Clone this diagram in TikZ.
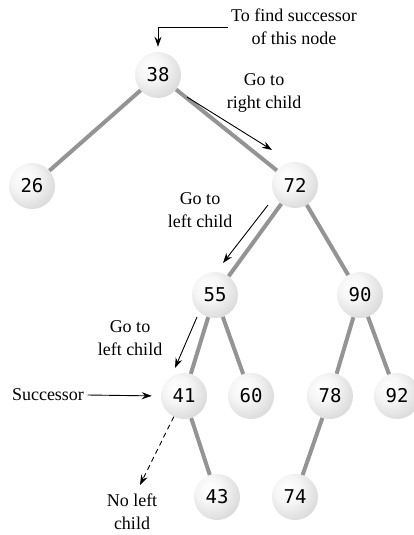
\documentclass[tikz,border=0pt]{standalone}
\usepackage{fontspec}
\setmainfont{Liberation Serif}
\newfontfamily\keyfont{DejaVu Sans Mono}
\usetikzlibrary{arrows.meta}
\pgfdeclareradialshading{sphere}{\pgfpoint{-10bp}{10bp}}{color(0bp)=(white); color(15bp)=(white!96!black); color(35bp)=(white!84!black); color(52bp)=(white!66!black); color(70bp)=(white!55!black)}

\begin{document}
\begin{tikzpicture}[x=1pt,y=-1pt,
  ball/.style={circle,minimum size=46pt,inner sep=0pt,shading=sphere,font=\keyfont\fontsize{19}{19}\selectfont},
  edge/.style={line width=4pt,black!42},
  note/.style={align=center,font=\fontsize{18}{23}\selectfont},
  pointer/.style={-{Stealth[length=10pt,width=7pt]},line width=0.9pt}]
\useasboundingbox (0,0) rectangle (413,535);
% keys
\node[ball] (n38) at (158,75) {38};
\node[ball] (n26) at (32,186) {26};
\node[ball] (n72) at (295,185) {72};
\node[ball] (n55) at (215,295) {55};
\node[ball] (n90) at (360,295) {90};
\node[ball] (n41) at (184,396) {41};
\node[ball] (n60) at (251,396) {60};
\node[ball] (n78) at (330,396) {78};
\node[ball] (n92) at (397,396) {92};
\node[ball] (n43) at (217,497) {43};
\node[ball] (n74) at (295,497) {74};
% links
\draw[edge] (n38) -- (n26);
\draw[edge] (n38) -- (n72);
\draw[edge] (n72) -- (n55);
\draw[edge] (n72) -- (n90);
\draw[edge] (n55) -- (n41);
\draw[edge] (n55) -- (n60);
\draw[edge] (n90) -- (n78);
\draw[edge] (n90) -- (n92);
\draw[edge] (n41) -- (n43);
\draw[edge] (n78) -- (n74);
% notes
\node[note] (findtxt) at (294,27) {To find successor\\of this node};
\node[note] (righttxt) at (264,93) {Go to\\right child};
\node[note] (left1txt) at (200,210) {Go to\\left child};
\node[note] (left2txt) at (130,338) {Go to\\left child};
\node[note] (succtxt) at (48,395) {Successor};
\node[note] (nolefttxt) at (132,512) {No left\\child};
% pointers
\coordinate (r1) at (187,97);
\coordinate (r2) at (272,150);
\coordinate (la1) at (268,205);
\coordinate (la2) at (223,263);
\coordinate (lb1) at (197,317);
\coordinate (lb2) at (175,368);
\coordinate (nl) at (140,485);
\draw[pointer,shorten >=5pt] (findtxt.west) -| (n38.north);
\draw[pointer] (r1) -- (r2);
\draw[pointer] (la1) -- (la2);
\draw[pointer] (lb1) -- (lb2);
\draw[pointer,shorten >=9pt] (succtxt.east) -- (n41.west);
\draw[pointer,dash pattern=on 5pt off 4pt] (n41) -- (nl);
\end{tikzpicture}
\end{document}
